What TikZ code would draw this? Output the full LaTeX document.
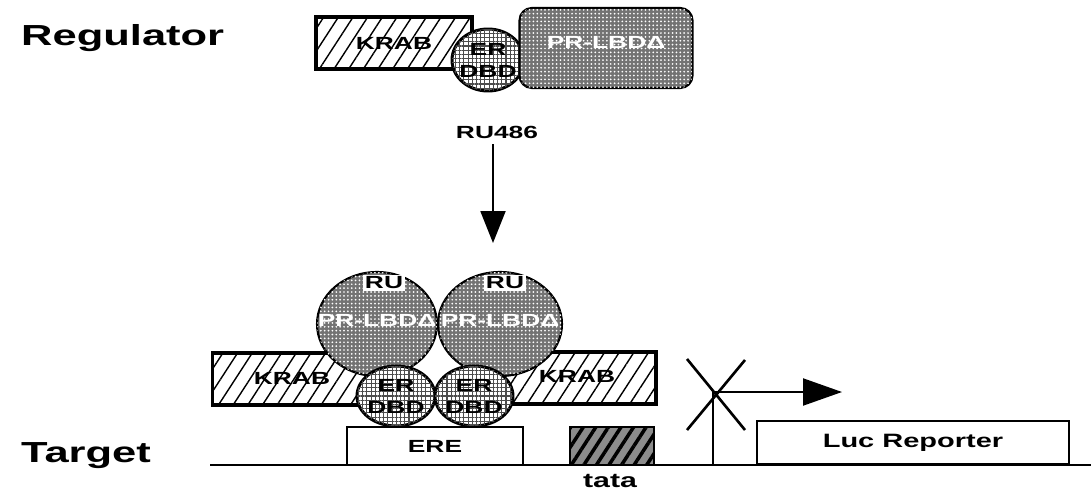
\documentclass[tikz,border=0pt]{standalone}
\usepackage{fontspec}
\setsansfont[FakeStretch=1.5]{Liberation Sans}
\usetikzlibrary{arrows.meta,patterns.meta,shapes.geometric}

\begin{document}
\begin{tikzpicture}[x=0.02cm,y=-0.02cm,font=\sffamily\bfseries\fontsize{10}{12.5}\selectfont,
  krab/.style={draw,line width=1.9pt,preaction={fill=white},pattern={Lines[angle=57,distance=7pt,line width=0.8pt]},minimum height=1.04cm},
  lbd/.style={draw,line width=1.2pt,fill=black!55,inner sep=0pt,postaction={pattern={Dots[distance=2.2pt,radius=0.55pt]},pattern color=white}},
  dbd/.style={ellipse,draw,line width=1.7pt,fill=white,inner sep=0pt,postaction={pattern={Hatch[distance=2.4pt,line width=0.6pt]},pattern color=black!70},minimum width=1.56cm,minimum height=1.2cm},
  box/.style={draw,line width=0.7pt,fill=white,minimum height=0.76cm},
  ru/.style={fill=white,inner sep=1pt},
  big/.style={font=\sffamily\bfseries\fontsize{16.5}{20}\selectfont}]
\useasboundingbox (0,0) rectangle (1091,493);
% regulator
\node[big,anchor=west] (reg) at (15,38) {Regulator};
\node[krab,minimum width=3.12cm] (krab1) at (394,43) {};
\node[dbd,minimum width=1.44cm,minimum height=1.24cm] (dbd1) at (488,60) {};
\node[lbd,rounded corners=7pt,minimum width=3.46cm,minimum height=1.6cm] (lbd1) at (606,48) {};
\node at (krab1) {KRAB};
\node[align=center] at (dbd1) {ER\\DBD};
\node[text=white] at (606,42) {PR-LBDΔ};
\node (ru486) at (497,132) {RU486};
\coordinate (bind) at (493,243);
\draw[line width=1.1pt,-{Triangle[length=0.64cm,width=0.5cm]}] (ru486.south -| bind)--(bind);
% target
\node[big,anchor=west] (tgt) at (15,456) {Target};
\node[krab,minimum width=3.18cm] (krab2) at (292,379) {};
\node[krab,minimum width=3.12cm] (krab3) at (578,378) {};
\node[lbd,ellipse,minimum width=2.4cm,minimum height=2.08cm] (lbd2) at (377,324) {};
\node[lbd,ellipse,minimum width=2.48cm,minimum height=2.08cm] (lbd3) at (500,324) {};
\node[dbd] (dbd2) at (396,396) {};
\node[dbd] (dbd3) at (474,396) {};
\node at (292,378) {KRAB};
\node at (577,376) {KRAB};
\node[ru] at (384,283) {RU};
\node[ru] at (505,283) {RU};
\node[text=white] at (377,320) {PR-LBDΔ};
\node[text=white] at (500,320) {PR-LBDΔ};
\node[align=center] at (dbd2) {ER\\DBD};
\node[align=center] at (dbd3) {ER\\DBD};
\node[box,minimum width=3.52cm] (ere) at (435,446) {ERE};
\node[box,minimum width=1.68cm,fill=black!45,postaction={pattern={Lines[angle=57,distance=6pt,line width=2pt]}}] (tata) at (612,446) {};
\node[font=\sffamily\bfseries\fontsize{11.5}{13}\selectfont] (tatalbl) at (610,481) {tata};
\node[box,minimum width=6.24cm,minimum height=0.86cm,font=\sffamily\bfseries\fontsize{11}{13}\selectfont] (luc) at (913,442.5) {Luc Reporter};
\coordinate (g0) at (210,465);
\coordinate (g1) at (1091,465);
\draw[line width=1pt] (g0)--(g1);
% promoter, blocked
\coordinate (tss) at (713,465);
\coordinate (tip) at (842,392);
\draw[line width=1.2pt,-{Triangle[length=0.78cm,width=0.54cm]}] (tss) |- (tip);
\draw[line width=1.5pt] (687,359)--(745,430) (745,360)--(687,430);
\end{tikzpicture}
\end{document}
